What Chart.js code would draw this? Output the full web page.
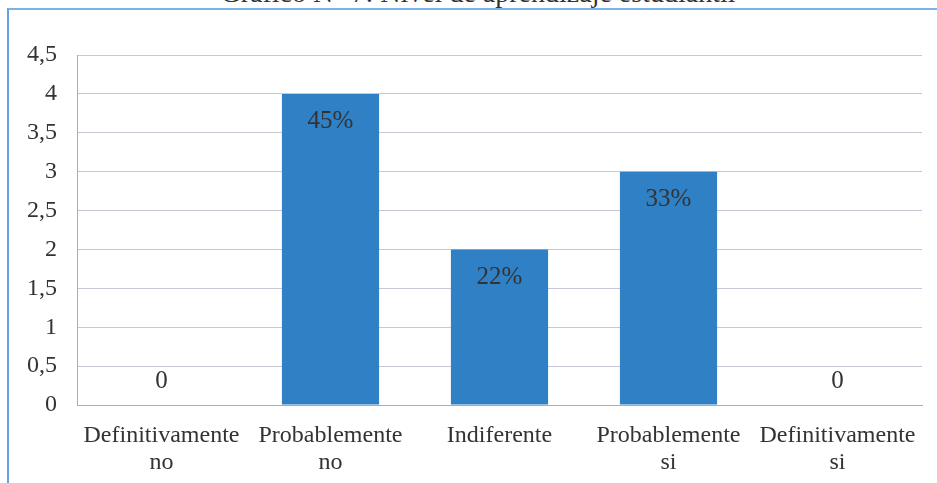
<!DOCTYPE html>
<html>
<head>
<meta charset="utf-8">
<script src="https://cdn.jsdelivr.net/npm/chart.js@4.4.1/dist/chart.umd.min.js"></script>
<style>
  html, body { margin: 0; padding: 0; background: #fff; }
  #wrap { position: relative; width: 937px; height: 483px; overflow: hidden; }
  #title {
    position: absolute; left: 0; width: 956px; top: -20px;
    text-align: center; font-family: 'Liberation Serif', serif; font-size: 28px;
    line-height: 26px; color: #333;
  }
  #frame {
    position: absolute; left: 7px; top: 8px; width: 940px; height: 490px;
    border-left: 2px solid #5fa3e3; border-top: 2px solid #7ab3ea;
  }
  #chart { position: absolute; left: 0; top: 0; }
</style>
</head>
<body>
<div id="wrap">
  <div id="title">Gráfico N° 7: Nivel de aprendizaje estudiantil</div>
  <div id="frame"></div>
  <canvas id="chart" width="937" height="483"></canvas>
</div>
<script>
// chart data
const categories = [
  ['Definitivamente', 'no'],
  ['Probablemente', 'no'],
  'Indiferente',
  ['Probablemente', 'si'],
  ['Definitivamente', 'si']
];
const values = [0, 4, 2, 3, 0];
const valueLabels = ['0', '45%', '22%', '33%', '0'];

const serif = 'Liberation Serif';
const textColor = '#333333';

// draws the value label inside the top of each bar (or above the base for zeros)
const barLabels = {
  id: 'barLabels',
  afterDatasetsDraw(chart) {
    const ctx = chart.ctx;
    const meta = chart.getDatasetMeta(0);
    ctx.save();
    ctx.font = `25px "${serif}"`;
    ctx.fillStyle = textColor;
    ctx.textAlign = 'center';
    ctx.textBaseline = 'middle';
    meta.data.forEach((bar, i) => {
      const y = values[i] > 0 ? bar.y + 28 : bar.y - 24;
      ctx.fillText(valueLabels[i], bar.x, y);
    });
    ctx.restore();
  }
};

new Chart(document.getElementById('chart'), {
  type: 'bar',
  data: {
    labels: categories,
    datasets: [{
      data: values,
      backgroundColor: '#2f80c5',
      borderWidth: 0,
      categoryPercentage: 1,
      barPercentage: 0.575
    }]
  },
  options: {
    responsive: false,
    animation: false,
    layout: { padding: { top: 55, right: 15, left: 0, bottom: 0 } },
    plugins: {
      legend: { display: false },
      tooltip: { enabled: false }
    },
    scales: {
      x: {
        grid: { display: false, drawTicks: false },
        border: { display: true, color: '#b0aab8', width: 1 },
        ticks: {
          padding: 18,
          maxRotation: 0,
          autoSkip: false,
          color: textColor,
          font: { family: serif, size: 24, lineHeight: 1.1 }
        },
        afterFit: (scale) => { scale.height = 78; }
      },
      y: {
        min: 0,
        max: 4.5,
        ticks: {
          stepSize: 0.5,
          padding: 20,
          color: textColor,
          font: { family: serif, size: 24 },
          callback: (v) => String(v).replace('.', ',')
        },
        grid: { color: '#cbc5d6', lineWidth: 1, drawTicks: false },
        border: { display: true, color: '#b0aab8', width: 1 },
        afterFit: (scale) => { scale.width = 77; }
      }
    }
  },
  plugins: [barLabels]
});
</script>
</body>
</html>
